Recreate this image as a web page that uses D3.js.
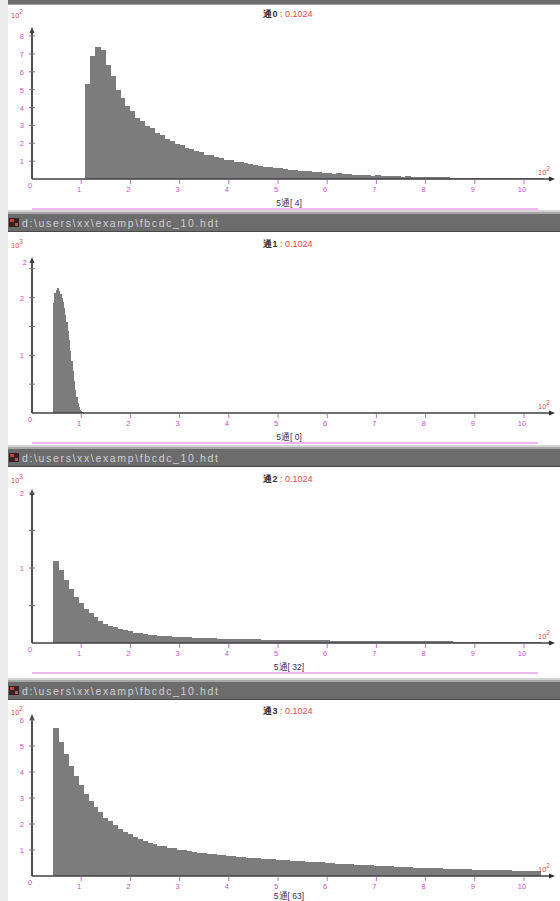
<!DOCTYPE html>
<html>
<head>
<meta charset="utf-8">
<script src="https://cdn.jsdelivr.net/npm/d3@7"></script>
<style>
  body { margin: 0; background: #ececec; }
  svg { display: block; font-family: "Liberation Sans", "DejaVu Sans", sans-serif; }
</style>
</head>
<body>
<svg id="chart" width="560" height="901"></svg>
<script>
// ---- data -------------------------------------------------------------
const fileName = "d:\\users\\xx\\examp\\fbcdc_10.hdt";
const channelNames = ["通0", "通1", "通2", "通3"];
const channelValues = ["0.1024", "0.1024", "0.1024", "0.1024"];
const xTitles = ["5通[ 4]", "5通[ 0]", "5通[ 32]", "5通[ 63]"];
const xTicks = [0, 1, 2, 3, 4, 5, 6, 7, 8, 9, 10];
const xExponent = "2";
const yExponents = ["2", "3", "3", "2"];
const yMax = [8, 2.6, 2, 6];
const yLabelTicks = [[1, 2, 3, 4, 5, 6, 7, 8], [1, 2], [1, 2], [1, 2, 3, 4, 5, 6]];
const yMinorTicks = [[], [0.5, 1.5, 2.5], [0.5, 1.5], []];
const yTopLabels = ["", "2", "", ""];

// histogram bins: first bin edge and bin width (×10²)
const binStart = [1.1, 0.45, 0.45, 0.45];
const binWidth = [0.1, 0.025, 0.1, 0.1];

const counts0 = [
  5.3, 6.9, 7.4, 7.2, 6.4, 5.75, 5.0, 4.55, 4.1, 3.8,
  3.42, 3.25, 2.98, 2.84, 2.58, 2.46, 2.26, 2.15, 1.98, 1.9,
  1.74, 1.68, 1.54, 1.49, 1.37, 1.32, 1.22, 1.18, 1.09, 1.05,
  0.97, 0.94, 0.87, 0.84, 0.77, 0.75, 0.69, 0.67, 0.61, 0.59,
  0.54, 0.53, 0.48, 0.47, 0.43, 0.42, 0.38, 0.38, 0.34, 0.33,
  0.3, 0.31, 0.27, 0.28, 0.24, 0.25, 0.21, 0.22, 0.19, 0.2,
  0.17, 0.18, 0.15, 0.16, 0.13, 0.14, 0.12, 0.125, 0.105, 0.11,
  0.095, 0.1, 0.085, 0.09, 0.075, 0.082, 0.07, 0.074, 0.063, 0.068,
  0.058, 0.06, 0.052, 0.056, 0.048, 0.05, 0.044, 0.047, 0.04, 0.043,
  0.037, 0.035, 0.03
];
const counts1 = [
  1.9, 2.08, 2.14, 2.16, 2.12, 2.07, 2.0, 1.92, 1.82, 1.7,
  1.57, 1.42, 1.26, 1.08, 0.9, 0.72, 0.55, 0.4, 0.28, 0.18,
  0.11, 0.06, 0.03, 0.015
];
const counts2 = [
  1.1, 0.97, 0.84, 0.72, 0.62, 0.53, 0.46, 0.4, 0.35, 0.3,
  0.26, 0.23, 0.21, 0.19, 0.17, 0.155, 0.14, 0.13, 0.12, 0.11,
  0.105, 0.1, 0.095, 0.09, 0.085, 0.08, 0.078, 0.075, 0.072, 0.07,
  0.068, 0.065, 0.063, 0.06, 0.058, 0.056, 0.055, 0.053, 0.052, 0.05,
  0.048, 0.047, 0.046, 0.045, 0.044, 0.043, 0.042, 0.041, 0.04, 0.039,
  0.038, 0.037, 0.036, 0.036, 0.035, 0.034, 0.033, 0.033, 0.032, 0.031,
  0.031, 0.03, 0.03, 0.029, 0.028, 0.028, 0.027, 0.027, 0.026, 0.026,
  0.025, 0.025, 0.024, 0.024, 0.023, 0.023, 0.022, 0.022, 0.022, 0.021,
  0.021, 0.02, 0.02, 0.02, 0.019, 0.019, 0.019, 0.018, 0.018, 0.018,
  0.017, 0.017, 0.017, 0.016, 0.016, 0.016, 0.015, 0.015, 0.015
];
const counts3 = [
  5.7, 5.15, 4.7, 4.25, 3.85, 3.5, 3.15, 2.9, 2.65, 2.45,
  2.25, 2.1, 1.95, 1.82, 1.7, 1.6, 1.5, 1.42, 1.36, 1.28,
  1.24, 1.17, 1.14, 1.08, 1.06, 1.01, 0.99, 0.95, 0.93, 0.9,
  0.88, 0.85, 0.84, 0.81, 0.8, 0.77, 0.76, 0.74, 0.73, 0.71,
  0.7, 0.68, 0.67, 0.65, 0.64, 0.62, 0.62, 0.6, 0.59, 0.57,
  0.57, 0.55, 0.54, 0.52, 0.52, 0.5, 0.5, 0.48, 0.47, 0.46,
  0.45, 0.43, 0.43, 0.41, 0.41, 0.39, 0.39, 0.37, 0.37, 0.35,
  0.35, 0.34, 0.33, 0.32, 0.32, 0.3, 0.3, 0.29, 0.29, 0.28,
  0.28, 0.27, 0.27, 0.26, 0.26, 0.25, 0.25, 0.24, 0.24, 0.23,
  0.23, 0.22, 0.22, 0.21, 0.21, 0.2, 0.2, 0.19, 0.18
];
const allCounts = [counts0, counts1, counts2, counts3];

// ---- layout -----------------------------------------------------------
const W = 560;
const plotLeft = 8;
// per panel: title baseline, y of x-axis, y of top value, top of y arrow, header top
const panels = [
  { titleY: 17,  axisY: 179, topY: 36,  arrowY: 27,  headerTop: 214, xTitleY: 206 },
  { titleY: 247, axisY: 413, topY: 263, arrowY: 257, headerTop: 449, xTitleY: 440 },
  { titleY: 482, axisY: 643, topY: 493, arrowY: 489, headerTop: 682, xTitleY: 670 },
  { titleY: 714, axisY: 876, topY: 720, arrowY: 714, headerTop: null, xTitleY: 899 }
];

const svg = d3.select("#chart");

// left strip + white plotting surface
svg.append("rect").attr("x", 0).attr("y", 0).attr("width", W).attr("height", 901).attr("fill", "#ececec");
svg.append("rect").attr("x", plotLeft).attr("y", 0).attr("width", W - plotLeft).attr("height", 901).attr("fill", "#ffffff");

const x = d3.scaleLinear().domain([0, 10]).range([31, 523]);

function drawHeader(top) {
  const g = svg.append("g");
  g.append("rect").attr("x", plotLeft).attr("y", top - 4).attr("width", W - plotLeft).attr("height", 2).attr("fill", "#d4d4d4");
  g.append("rect").attr("x", plotLeft).attr("y", top - 2).attr("width", W - plotLeft).attr("height", 2).attr("fill", "#a8a8a8");
  g.append("rect").attr("x", plotLeft).attr("y", top).attr("width", W - plotLeft).attr("height", 17).attr("fill", "#6c6c6c");
  g.append("rect").attr("x", plotLeft).attr("y", top + 17).attr("width", W - plotLeft).attr("height", 1).attr("fill", "#4a4a4a");
  // window icon
  g.append("rect").attr("x", 9).attr("y", top + 4).attr("width", 10).attr("height", 9).attr("fill", "#3a2020");
  g.append("rect").attr("x", 10).attr("y", top + 5).attr("width", 4).attr("height", 3).attr("fill", "#c04040");
  g.append("rect").attr("x", 15).attr("y", top + 9).attr("width", 3).attr("height", 3).attr("fill", "#a06060");
  g.append("text").attr("x", 22).attr("y", top + 12.5).attr("fill", "#cfcfd6")
    .attr("font-size", 10.5).attr("textLength", 196).attr("lengthAdjust", "spacing").text(fileName);
}

// bottom edge of the header above the first panel
svg.append("rect").attr("x", plotLeft).attr("y", 0).attr("width", W - plotLeft).attr("height", 4).attr("fill", "#6c6c6c");
svg.append("rect").attr("x", plotLeft).attr("y", 4).attr("width", W - plotLeft).attr("height", 1).attr("fill", "#a0a0a0");

panels.forEach((p, i) => {
  const y = d3.scaleLinear().domain([0, yMax[i]]).range([p.axisY, p.topY]);
  const g = svg.append("g");

  // histogram bars
  const w = binWidth[i];
  const bw = x(w) - x(0);
  g.append("g").attr("shape-rendering", "crispEdges")
    .selectAll("rect").data(allCounts[i]).join("rect")
    .attr("x", (d, k) => x(binStart[i] + k * w))
    .attr("width", bw + 1)
    .attr("y", d => y(d))
    .attr("height", d => p.axisY - y(d))
    .attr("fill", "#7c7c7c");

  // title
  const t = g.append("text").attr("x", 288).attr("y", p.titleY).attr("text-anchor", "middle").attr("font-size", 9);
  t.append("tspan").attr("fill", "#333").attr("font-weight", "bold").text(channelNames[i]);
  t.append("tspan").attr("fill", "#e04848").text(" : " + channelValues[i]);

  // y unit label
  const yu = g.append("text").attr("x", 11).attr("y", p.titleY + 1).attr("fill", "#e05050").attr("font-size", 7.5);
  yu.append("tspan").text("10");
  yu.append("tspan").attr("dy", -4).attr("font-size", 6.5).text(yExponents[i]);

  // y axis with arrow
  g.append("line").attr("x1", 32).attr("x2", 32).attr("y1", p.axisY).attr("y2", p.arrowY + 3)
    .attr("stroke", "#505050").attr("stroke-width", 2);
  g.append("path").attr("d", `M32,${p.arrowY} l-2.5,6 h5 z`).attr("fill", "#404040");

  yLabelTicks[i].forEach(v => {
    g.append("line").attr("x1", 29).attr("x2", 35).attr("y1", y(v)).attr("y2", y(v))
      .attr("stroke", "#8a6a8a").attr("stroke-width", 1);
    g.append("text").attr("x", 24).attr("y", y(v) + 3).attr("text-anchor", "end")
      .attr("fill", "#d050d0").attr("font-size", 7.5).text(v);
  });
  yMinorTicks[i].forEach(v => {
    g.append("line").attr("x1", 29).attr("x2", 35).attr("y1", y(v)).attr("y2", y(v))
      .attr("stroke", "#8a6a8a").attr("stroke-width", 1);
  });
  if (yTopLabels[i]) {
    g.append("text").attr("x", 27).attr("y", p.arrowY + 8).attr("text-anchor", "end")
      .attr("fill", "#d050d0").attr("font-size", 7.5).text(yTopLabels[i]);
  }

  // x axis with arrow
  g.append("line").attr("x1", 32).attr("x2", 551).attr("y1", p.axisY).attr("y2", p.axisY)
    .attr("stroke", "#404040").attr("stroke-width", 1.5);
  g.append("path").attr("d", `M555,${p.axisY} l-6,-2.5 v5 z`).attr("fill", "#303030");

  xTicks.forEach(v => {
    if (v > 0) {
      g.append("line").attr("x1", x(v) + 1).attr("x2", x(v) + 1).attr("y1", p.axisY + 1).attr("y2", p.axisY + 5)
        .attr("stroke", "#c070c0").attr("stroke-width", 1);
    }
    g.append("text").attr("x", x(v) - 1).attr("y", p.axisY + (v === 0 ? 9 : 13))
      .attr("text-anchor", "middle").attr("fill", "#d050d0").attr("font-size", 7.5).text(v);
  });

  // x unit label
  const xu = g.append("text").attr("x", 538).attr("y", p.axisY - 4).attr("fill", "#e05050").attr("font-size", 7.5);
  xu.append("tspan").text("10");
  xu.append("tspan").attr("dy", -4).attr("font-size", 6.5).text(xExponent);

  // x title and rule below it
  g.append("line").attr("x1", 32).attr("x2", 538).attr("y1", p.axisY + 30).attr("y2", p.axisY + 30)
    .attr("stroke", "#e8a0e8").attr("stroke-width", 1.5);
  g.append("text").attr("x", 289).attr("y", p.xTitleY).attr("text-anchor", "middle")
    .attr("fill", "#303060").attr("font-size", 8.5).text(xTitles[i]);

  if (p.headerTop !== null) drawHeader(p.headerTop);
});
</script>
</body>
</html>
